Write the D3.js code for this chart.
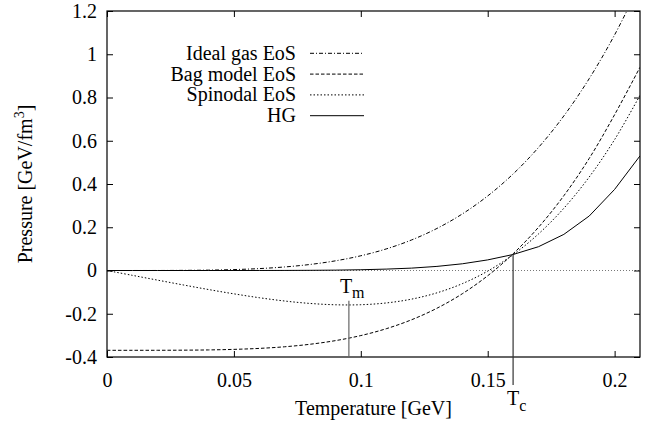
<!DOCTYPE html>
<html>
<head>
<meta charset="utf-8">
<script src="https://cdn.jsdelivr.net/npm/d3@7"></script>
<style>
  body { margin: 0; background: #fff; }
  svg text { font-family: "Liberation Serif", "Times New Roman", Times, serif !important; fill: #000; }
</style>
</head>
<body>
<div id="chart"></div>
<script>
// temperature grid [GeV]
const temps = [0, 0.01, 0.02, 0.03, 0.04, 0.05, 0.06, 0.07, 0.08, 0.09, 0.10,
  0.11, 0.12, 0.13, 0.14, 0.15, 0.16, 0.17, 0.18, 0.19, 0.20, 0.21];

// pressure [GeV/fm^3]
const idealGas = [0, 0.0000, 0.0001, 0.0006, 0.0017, 0.0043, 0.0088, 0.0164, 0.0279, 0.0447, 0.0681,
  0.0997, 0.1412, 0.1945, 0.2616, 0.3448, 0.4463, 0.5688, 0.7149, 0.8875, 1.0896, 1.3244];
const bagModel = [-0.369, -0.369, -0.3689, -0.3684, -0.3673, -0.3647, -0.3602, -0.3527, -0.3411, -0.3243, -0.3009,
  -0.2693, -0.2278, -0.1745, -0.1074, -0.0242, 0.0773, 0.1998, 0.3459, 0.5185, 0.7206, 0.9400];
const spinodal = [0, -0.0224, -0.0447, -0.0667, -0.0880, -0.1079, -0.1259, -0.1411, -0.1523, -0.1585, -0.1583,
  -0.1501, -0.1324, -0.1033, -0.0608, -0.0028, 0.0730, 0.1690, 0.2879, 0.4324, 0.6054, 0.8101];
const hg = [0, 0, 0, 0, 0, 0, 0.0001, 0.0003, 0.0008, 0.0017, 0.0035,
  0.0065, 0.011, 0.019, 0.031, 0.049, 0.074, 0.110, 0.167, 0.252, 0.375, 0.530];

const Tm = 0.0953, TmP = -0.14;
const Tc = 0.16, TcP = 0.074, TcBottom = -0.53;

const xTicks = [0, 0.05, 0.1, 0.15, 0.2];
const yTicks = [-0.4, -0.2, 0, 0.2, 0.4, 0.6, 0.8, 1, 1.2];

const legendNames = ["Ideal gas EoS", "Bag model EoS", "Spinodal EoS", "HG"];

const W = 646, H = 423;
const margin = {top: 11, right: 6, bottom: 66, left: 107};
const width = W - margin.left - margin.right,
      height = H - margin.top - margin.bottom;
const serif = '"Liberation Serif", "Times New Roman", Times, serif';
const fs = 20;

const svg = d3.select("#chart").append("svg")
  .attr("width", W).attr("height", H)
  .attr("font-family", serif);

const g = svg.append("g")
  .attr("transform", `translate(${margin.left}, ${margin.top})`);

const x = d3.scaleLinear().domain([0, 0.21]).range([0, width]);
const y = d3.scaleLinear().domain([-0.4, 1.2]).range([height, 0]);

// zero line
g.append("line")
  .attr("x1", 0).attr("x2", width)
  .attr("y1", y(0)).attr("y2", y(0))
  .attr("stroke", "#555").attr("stroke-width", 0.8)
  .attr("stroke-dasharray", "1,2");

// plain hyphen minus like gnuplot
const fmt = d => String(d);

// ticks, mirrored on all sides, pointing inward
const tk = 6;
g.append("g").attr("transform", `translate(0, ${height})`)
  .call(d3.axisBottom(x).tickValues(xTicks).tickSize(-tk).tickFormat(fmt).tickPadding(16))
  .call(a => a.select(".domain").remove());
g.append("g")
  .call(d3.axisTop(x).tickValues(xTicks).tickSize(-tk).tickFormat(""))
  .call(a => a.select(".domain").remove());
g.append("g")
  .call(d3.axisLeft(y).tickValues(yTicks).tickSize(-tk).tickFormat(fmt).tickPadding(10))
  .call(a => a.select(".domain").remove());
g.append("g").attr("transform", `translate(${width}, 0)`)
  .call(d3.axisRight(y).tickValues(yTicks).tickSize(-tk).tickFormat(""))
  .call(a => a.select(".domain").remove());

g.selectAll("g").attr("font-family", serif).attr("font-size", fs);
g.selectAll(".tick line").attr("stroke", "#000");

// frame
g.append("rect")
  .attr("width", width).attr("height", height)
  .attr("fill", "none").attr("stroke", "#000").attr("stroke-width", 1.2);

// clip
svg.append("clipPath").attr("id", "clip")
  .append("rect").attr("width", width).attr("height", height);

const plot = g.append("g").attr("clip-path", "url(#clip)");

const smooth = d3.line()
  .x((d, i) => x(temps[i]))
  .y(d => y(d))
  .curve(d3.curveCatmullRom);
const straight = d3.line()
  .x((d, i) => x(temps[i]))
  .y(d => y(d));

const series = [
  {vals: idealGas, dash: "4,2,1,2", line: smooth},
  {vals: bagModel, dash: "3.5,2", line: smooth},
  {vals: spinodal, dash: "1.5,2", line: smooth},
  {vals: hg, dash: null, line: straight}
];

series.forEach(s => {
  plot.append("path")
    .attr("d", s.line(s.vals))
    .attr("fill", "none")
    .attr("stroke", "#000")
    .attr("stroke-width", 1)
    .attr("stroke-dasharray", s.dash);
});

// T_m marker
g.append("line")
  .attr("x1", x(Tm)).attr("x2", x(Tm))
  .attr("y1", y(TmP)).attr("y2", y(-0.4))
  .attr("stroke", "#666").attr("stroke-width", 1.2);
const tmLab = g.append("text")
  .attr("x", x(Tm) - 9).attr("y", 293 - margin.top)
  .attr("font-size", fs);
tmLab.append("tspan").text("T");
tmLab.append("tspan").attr("dy", 5).attr("font-size", 16).text("m");

// T_c marker
g.append("line")
  .attr("x1", x(Tc)).attr("x2", x(Tc))
  .attr("y1", y(TcP)).attr("y2", y(TcBottom))
  .attr("stroke", "#333").attr("stroke-width", 1.2);
const tcLab = g.append("text")
  .attr("x", x(Tc) - 6).attr("y", 405 - margin.top)
  .attr("font-size", fs);
tcLab.append("tspan").text("T");
tcLab.append("tspan").attr("dy", 6).attr("font-size", 16).text("c");

// legend
const leg = g.append("g").attr("transform", "translate(189, 42.3)");
legendNames.forEach((name, i) => {
  const row = leg.append("g").attr("transform", `translate(0, ${i * 20.8})`);
  row.append("text")
    .attr("x", 0).attr("y", 6.5)
    .attr("text-anchor", "end")
    .attr("font-size", fs)
    .text(name);
  row.append("line")
    .attr("x1", 14).attr("x2", 68)
    .attr("stroke", "#000").attr("stroke-width", 1)
    .attr("stroke-dasharray", series[i].dash);
});

// axis titles
svg.append("text")
  .attr("x", margin.left + width / 2).attr("y", 415)
  .attr("text-anchor", "middle")
  .attr("font-size", fs)
  .text("Temperature [GeV]");

const yt = svg.append("text")
  .attr("transform", `translate(32, ${margin.top + height / 2}) rotate(-90)`)
  .attr("text-anchor", "middle")
  .attr("font-size", fs);
yt.append("tspan").text("Pressure [GeV/fm");
yt.append("tspan").attr("dy", -8).attr("font-size", 14).text("3");
yt.append("tspan").attr("dy", 8).text("]");
</script>
</body>
</html>
